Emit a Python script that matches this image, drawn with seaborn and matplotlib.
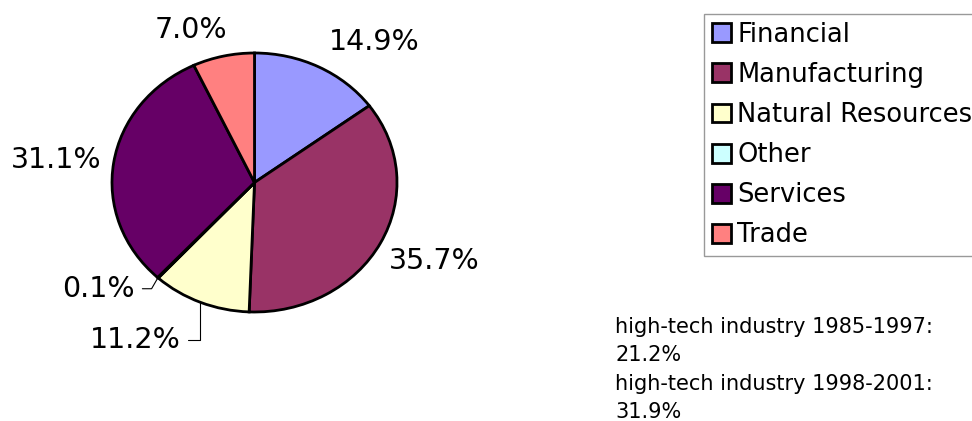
import matplotlib
matplotlib.use("Agg")
import numpy as np
import matplotlib.pyplot as plt
import seaborn as sns

# data
sectors = ["Financial", "Manufacturing", "Natural Resources", "Other", "Services", "Trade"]
shares = [14.9, 35.7, 11.2, 0.1, 31.1, 7.0]
colors = ["#9999FF", "#993366", "#FFFFCC", "#CCFFFF", "#660066", "#FF8080"]
notes = ["high-tech industry 1985-1997:", "21.2%",
         "high-tech industry 1998-2001:", "31.9%"]

# label placement (pixel offsets from the wedge edge, alignment, leader line)
label_style = [
    dict(off=(10, 17), ha="left", leader=None),
    dict(off=(8, -26), ha="left", leader=None),
    dict(off=(-20, -46), ha="right", leader="angle,angleA=0,angleB=90"),
    dict(off=(-23, -19), ha="right", leader="angle,angleA=0,angleB=60"),
    dict(off=(-12, -5), ha="right", leader=None),
    dict(off=(4, 18), ha="right", leader=None),
]

sns.set_style("white")
plt.rcParams["font.family"] = ["DejaVu Sans"]
plt.rcParams["text.color"] = "black"

W, H, DPI = 972, 421, 100
fig = plt.figure(figsize=(W / DPI, H / DPI), dpi=DPI)

# pie sits in an ellipse: centre (254.5, 182.5) px, radii 142.5 x 129.5 px
cx, cy, rx, ry = 254.5, 182.5, 142.5, 129.5
ax = fig.add_axes([(cx - rx) / W, (H - cy - ry) / H, 2 * rx / W, 2 * ry / H])

wedges, _ = ax.pie(shares, colors=colors, startangle=90, counterclock=False,
                   wedgeprops=dict(edgecolor="black", linewidth=2, clip_on=False))
ax.set_aspect("auto")
ax.set_xlim(-1, 1)
ax.set_ylim(-1, 1)
ax.axis("off")

for w, val, st in zip(wedges, shares, label_style):
    mid = np.deg2rad((w.theta1 + w.theta2) / 2)
    edge = (np.cos(mid), np.sin(mid))
    arrow = None
    if st["leader"]:
        arrow = dict(arrowstyle="-", color="black", lw=0.8, shrinkA=3, shrinkB=0,
                     connectionstyle=st["leader"])
    ax.annotate(f"{val:.1f}%", xy=edge, xycoords="data",
                xytext=st["off"], textcoords="offset pixels",
                ha=st["ha"], va="baseline", fontsize=20.5, color="black",
                arrowprops=arrow, annotation_clip=False)

leg = fig.legend(wedges, sectors, loc="upper left",
                 bbox_to_anchor=(704 / W, 1 - 14 / H),
                 fontsize=18.5, handlelength=0.75, handleheight=0.75,
                 handletextpad=0.25, labelspacing=0.55, borderpad=0.3,
                 borderaxespad=0, fancybox=False, frameon=True)
leg.get_frame().set_edgecolor("#808080")
leg.get_frame().set_linewidth(1.0)
for t in leg.get_texts():
    t.set_color("black")

for i, line in enumerate(notes):
    fig.text(615 / W, 1 - (333 + 28.3 * i) / H, line, fontsize=15,
             ha="left", va="baseline", color="black")

fig.savefig("out.png", dpi=DPI)
